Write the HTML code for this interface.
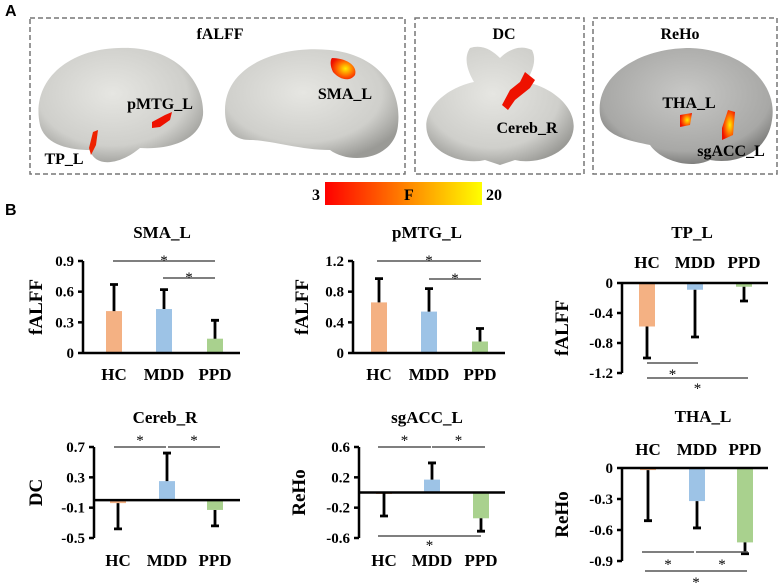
<!DOCTYPE html>
<html><head><meta charset="utf-8"><style>
body{margin:0;background:#fff;}
svg{display:block;font-family:"Liberation Serif",serif;font-weight:bold;}
</style></head><body>
<svg id="fig" width="780" height="583" viewBox="0 0 780 583">
<defs>
<linearGradient id="cb" x1="0" x2="1" y1="0" y2="0"><stop offset="0" stop-color="#ff0000"/><stop offset="0.5" stop-color="#ff8000"/><stop offset="1" stop-color="#ffff00"/></linearGradient>
<radialGradient id="brain" cx="0.45" cy="0.4" r="0.65"><stop offset="0" stop-color="#e6e6e2"/><stop offset="0.7" stop-color="#cfcfcb"/><stop offset="1" stop-color="#9a9a96"/></radialGradient>
<radialGradient id="brain2" cx="0.5" cy="0.4" r="0.65"><stop offset="0" stop-color="#c8c8c6"/><stop offset="0.75" stop-color="#a8a8a6"/><stop offset="1" stop-color="#6e6e6c"/></radialGradient>
<radialGradient id="blob" cx="0.6" cy="0.5" r="0.6"><stop offset="0" stop-color="#ffee00"/><stop offset="0.6" stop-color="#ff6000"/><stop offset="1" stop-color="#ee1100"/></radialGradient>
</defs>
<g font-family="Liberation Sans">
<text x="5" y="16" font-family="Liberation Sans" font-size="16">A</text>
<rect x="30" y="18" width="375" height="156" fill="none" stroke="#777" stroke-width="1.5" stroke-dasharray="5,3"/>
<rect x="415" y="18" width="169" height="156" fill="none" stroke="#777" stroke-width="1.5" stroke-dasharray="5,3"/>
<rect x="593" y="18" width="184" height="156" fill="none" stroke="#777" stroke-width="1.5" stroke-dasharray="5,3"/>
<path d="M40 125 C30 80 70 45 130 48 C180 50 205 85 203 115 C200 140 170 150 140 148 C120 165 95 168 90 150 C70 150 45 145 40 125Z" fill="url(#brain)"/>
<path d="M225 110 C225 65 280 45 330 50 C380 55 402 90 398 125 C395 160 350 165 330 150 C300 150 270 140 250 140 C230 140 225 125 225 110Z" fill="url(#brain)"/>
<path d="M470 48 C482 44 492 50 500 58 C508 50 520 44 532 50 C538 62 530 75 526 82 C555 88 578 110 573 132 C568 155 535 165 515 160 L500 165 L485 160 C465 165 432 155 427 132 C422 110 445 88 474 82 C470 75 462 60 470 48Z" fill="url(#brain)"/>
<path d="M600 115 C595 75 640 48 690 48 C745 50 778 85 772 120 C768 150 740 165 710 160 C690 170 660 160 650 145 C625 140 603 135 600 115Z" fill="url(#brain2)"/>
<path d="M332 58 C345 58 358 65 355 75 C350 82 340 80 333 72 C330 66 330 60 332 58Z" fill="url(#blob)"/>
<path d="M152 122 L165 115 L172 112 L170 120 L160 127 L152 128Z" fill="#ee1100"/>
<path d="M93 132 L98 130 L96 145 L91 155 L89 148Z" fill="#ee2200"/>
<path d="M525 72 L535 80 L530 88 L515 100 L508 110 L502 105 L510 90 L520 82Z" fill="#ee1100"/>
<path d="M680 115 L692 113 L690 125 L680 127Z" fill="url(#blob)"/>
<path d="M728 110 L735 112 L733 135 L722 140 L722 128Z" fill="url(#blob)"/>
<g font-family="Liberation Serif" font-size="16" text-anchor="middle">
<text x="220" y="39">fALFF</text>
<text x="504" y="39">DC</text>
<text x="680" y="39">ReHo</text>
<text x="160" y="109">pMTG_L</text>
<text x="345" y="99">SMA_L</text>
<text x="64" y="164">TP_L</text>
<text x="527" y="133">Cereb_R</text>
<text x="689" y="108">THA_L</text>
<text x="731" y="156">sgACC_L</text>
</g>
<rect x="325" y="182" width="157" height="23" fill="url(#cb)"/>
<g font-family="Liberation Serif" font-size="16">
<text x="312" y="200">3</text>
<text x="404" y="200">F</text>
<text x="486" y="200">20</text>
</g>
<text x="5" y="215" font-family="Liberation Sans" font-size="16">B</text>
</g>
<g id="charts"></g>
</svg>
<script>
// Data arrays
const categories = ["HC","MDD","PPD"];
const smaMeans = [0.41,0.43,0.14];
const smaErr = [0.67,0.62,0.32];
const smaTicks = [0,0.3,0.6,0.9];
const pmtgMeans = [0.66,0.54,0.15];
const pmtgErr = [0.97,0.84,0.32];
const pmtgTicks = [0,0.4,0.8,1.2];
const tpMeans = [-0.58,-0.09,-0.05];
const tpErr = [-1.0,-0.72,-0.24];
const tpTicks = [0,-0.4,-0.8,-1.2];
const cerebMeans = [-0.04,0.25,-0.13];
const cerebErr = [-0.38,0.62,-0.34];
const cerebTicks = [0.7,0.3,-0.1,-0.5];
const sgaccMeans = [-0.01,0.17,-0.34];
const sgaccErr = [-0.31,0.39,-0.51];
const sgaccTicks = [0.6,0.2,-0.2,-0.6];
const thaMeans = [-0.02,-0.32,-0.72];
const thaErr = [-0.51,-0.58,-0.83];
const thaTicks = [0,-0.3,-0.6,-0.9];
const colors = ["#f4b183","#9dc3e6","#a9d18e"];

const NS="http://www.w3.org/2000/svg";
const root=document.getElementById('charts');
function mk(tag,attrs,parent){const e=document.createElementNS(NS,tag);for(const k in attrs)e.setAttribute(k,attrs[k]);(parent||root).appendChild(e);return e;}

function chart(o){
  const g=mk('g',{});
  
  
  const y=v=>o.yTop+(o.vMax-v)/(o.vMax-o.vMin)*(o.yBot-o.yTop);
  const xs=o.xs;
  const t=mk('text',{x:o.tx,y:o.ty,'text-anchor':'middle','font-size':17},g);t.textContent=o.title;
  
  
  const yl=mk('text',{x:0,y:0,'text-anchor':'middle','font-size':19,transform:`translate(${o.lx},${(o.yTop+o.yBot)/2}) rotate(-90)`},g);yl.textContent=o.ylab;
  
  
  o.means.forEach((m,i)=>{
    const y0=y(0),y1=y(m);
    const r=mk('rect',{x:xs[i]-8,y:Math.min(y0,y1),width:16,height:Math.max(1.5,Math.abs(y1-y0)),fill:colors[i]},g);
    
    
    const e=mk('path',{d:`M${xs[i]} ${y1}V${y(o.err[i])}M${xs[i]-4} ${y(o.err[i])}H${xs[i]+4}`,stroke:'#000','stroke-width':2.8,fill:'none'},g);
    
    
  });
  const ax=mk('path',{d:`M${o.ax} ${o.yTop}V${o.yBot}`,stroke:'#000','stroke-width':2.5,fill:'none'},g);
  
  
  o.ticks.forEach(v=>{
    mk('path',{d:`M${o.ax-5} ${y(v)}H${o.ax}`,stroke:'#000','stroke-width':2.5},g);
    const tl=mk('text',{x:o.ax-9,y:y(v)+5,'text-anchor':'end','font-size':15},g);tl.textContent=String(v);
    
    
  });
  const zl=mk('path',{d:`M${o.ax} ${y(0)}H${o.axEnd}`,stroke:'#000','stroke-width':2.5},g);
  
  
  categories.forEach((c,i)=>{
    const ct=mk('text',{x:xs[i],y:o.catY,'text-anchor':'middle','font-size':17},g);ct.textContent=c;
    
    
  });
  (o.sig||[]).forEach(s=>{
    mk('path',{d:`M${s[0]} ${s[2]}H${s[1]}`,stroke:'#555','stroke-width':1.5},g);
    const st=mk('text',{x:(s[0]+s[1])/2,y:s[3],'text-anchor':'middle','font-size':15,'font-weight':'normal'},g);st.textContent='*';
    
    
  });
}
chart({name:'sma',title:'SMA_L',tx:162,ty:238,ylab:'fALFF',lx:42,ax:83,axEnd:240,yTop:261,yBot:353,vMax:0.9,vMin:0,xs:[114,164,215],means:smaMeans,err:smaErr,ticks:smaTicks,catY:380,sig:[[113,215,261,265],[163,215,278,282]]});
chart({name:'pmtg',title:'pMTG_L',tx:427,ty:238,ylab:'fALFF',lx:308,ax:353,axEnd:505,yTop:261,yBot:353,vMax:1.2,vMin:0,xs:[379,429,480],means:pmtgMeans,err:pmtgErr,ticks:pmtgTicks,catY:380,sig:[[377,481,261,265],[429,481,279,283]]});
chart({name:'tp',title:'TP_L',tx:692,ty:238,ylab:'fALFF',lx:568,ax:622,axEnd:768,yTop:283,yBot:373,vMax:0,vMin:-1.2,xs:[647,695,744],means:tpMeans,err:tpErr,ticks:tpTicks,catY:268,sig:[[647,698,363,379],[647,748,378,393]]});
chart({name:'cereb',title:'Cereb_R',tx:165,ty:423,ylab:'DC',lx:42,ax:94,axEnd:240,yTop:447,yBot:538,vMax:0.7,vMin:-0.5,xs:[118,167,215],means:cerebMeans,err:cerebErr,ticks:cerebTicks,catY:566,sig:[[114,166,447,445],[168,220,447,445]]});
chart({name:'sgacc',title:'sgACC_L',tx:427,ty:423,ylab:'ReHo',lx:305,ax:359,axEnd:505,yTop:447,yBot:538,vMax:0.6,vMin:-0.6,xs:[384,432,481],means:sgaccMeans,err:sgaccErr,ticks:sgaccTicks,catY:566,sig:[[378,431,447,445],[432,485,447,445],[378,481,536,550]]});
chart({name:'tha',title:'THA_L',tx:703,ty:422,ylab:'ReHo',lx:568,ax:622,axEnd:768,yTop:468,yBot:561,vMax:0,vMin:-0.9,xs:[648,697,745],means:thaMeans,err:thaErr,ticks:thaTicks,catY:455,sig:[[642,694,552,569],[696,748,552,569],[645,747,571,587]]});
</script>
</body></html>
